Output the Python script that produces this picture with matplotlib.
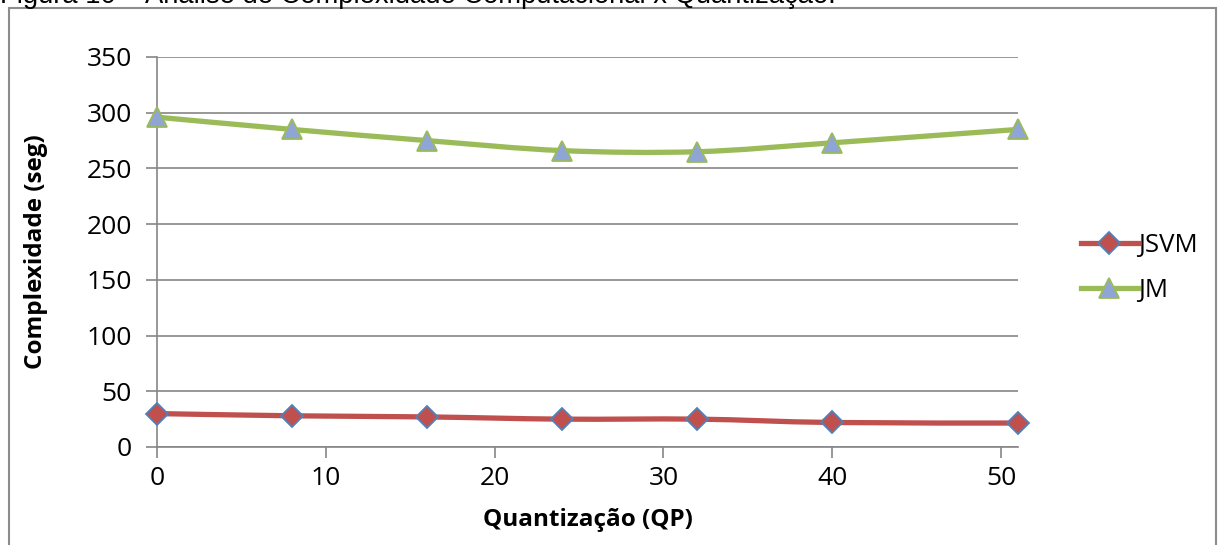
import numpy as np
import matplotlib.pyplot as plt
from matplotlib.path import Path
from matplotlib.patches import PathPatch
from matplotlib.lines import Line2D

qp = [0, 8, 16, 24, 32, 40, 51]
jsvm = [30, 28, 27, 25, 25, 22, 21.5]
jm = [296, 285, 275, 266, 265, 273, 285]

caption = "Figura 10 – Análise de Complexidade Computacional x Quantização."
font = ['Open Sans', 'DejaVu Sans']


def smooth_path(x, y):
    # Excel-like smoothed line: cubic Bezier through the points
    pts = np.column_stack([x, y]).astype(float)
    n = len(pts)
    verts = [pts[0]]
    codes = [Path.MOVETO]
    for i in range(n - 1):
        p0 = pts[i - 1] if i > 0 else pts[i]
        p1 = pts[i]
        p2 = pts[i + 1]
        p3 = pts[i + 2] if i + 2 < n else pts[i + 1]
        c1 = p1 + (p2 - p0) / 6
        c2 = p2 - (p3 - p1) / 6
        verts += [c1, c2, p2]
        codes += [Path.CURVE4] * 3
    return Path(verts, codes)


fig = plt.figure(figsize=(12.18, 5.45), dpi=100)
ax = fig.add_axes([157 / 1218, 1 - 447 / 545, (1018 - 157) / 1218, (447 - 57) / 545])

grid_c = '#868686'
ax.set_xlim(0, 51)
ax.set_ylim(0, 350)
ax.set_yticks(range(0, 351, 50))
ax.set_xticks(range(0, 51, 10))
ax.grid(axis='y', color=grid_c, linewidth=1.2)
ax.set_axisbelow(True)
for s in ['top', 'right']:
    ax.spines[s].set_visible(False)
for s in ['left', 'bottom']:
    ax.spines[s].set_color(grid_c)
    ax.spines[s].set_linewidth(1.2)
ax.tick_params(axis='both', color=grid_c, length=8, width=1.2, labelsize=19, pad=6)
for lab in ax.get_xticklabels() + ax.get_yticklabels():
    lab.set_family(font)
ax.tick_params(axis='y', pad=10)

series = [
    (jsvm, '#C0504D', 'D', '#C0504D', '#4F81BD', 'JSVM', 11),
    (jm, '#9BBB59', '^', '#8EA5D6', '#9BBB59', 'JM', 14),
]
handles = []
for vals, col, mk, mfc, mec, name, ms in series:
    ax.add_patch(PathPatch(smooth_path(qp, vals), facecolor='none', edgecolor=col,
                           linewidth=3.8, capstyle='round', clip_on=False, zorder=3))
    ax.plot(qp, vals, linestyle='none', marker=mk, markersize=ms, markerfacecolor=mfc,
            markeredgecolor=mec, markeredgewidth=1.3, clip_on=False, zorder=4)
    handles.append(Line2D([], [], color=col, linewidth=3.8, marker=mk, markersize=ms,
                          markerfacecolor=mfc, markeredgecolor=mec, markeredgewidth=1.3,
                          label=name))

ax.legend(handles=handles, loc='center left', bbox_to_anchor=(1058 / 1218, 1 - 268 / 545),
          bbox_transform=fig.transFigure, frameon=False, handlelength=2.2,
          handletextpad=0.0, labelspacing=0.75,
          prop={'family': font, 'size': 18.5})

ax.set_xlabel('Quantização (QP)', fontsize=17.5, fontweight='bold', family=font, labelpad=12)
ax.set_ylabel('Complexidade (seg)', fontsize=17.5, fontweight='bold', family=font, labelpad=28)

# outer chart frame
fig.patches.append(plt.Rectangle((9 / 1218, -0.01), 1207 / 1218, 1 - 8 / 545 + 0.01,
                                 transform=fig.transFigure, fill=False,
                                 edgecolor='#8C8C8C', linewidth=1.5))
fig.text(0.0, 1 - 3 / 545, caption, fontsize=19.7, family=['Liberation Sans', 'DejaVu Sans'],
         va='baseline', ha='left')

fig.savefig('out.png', dpi=100)
